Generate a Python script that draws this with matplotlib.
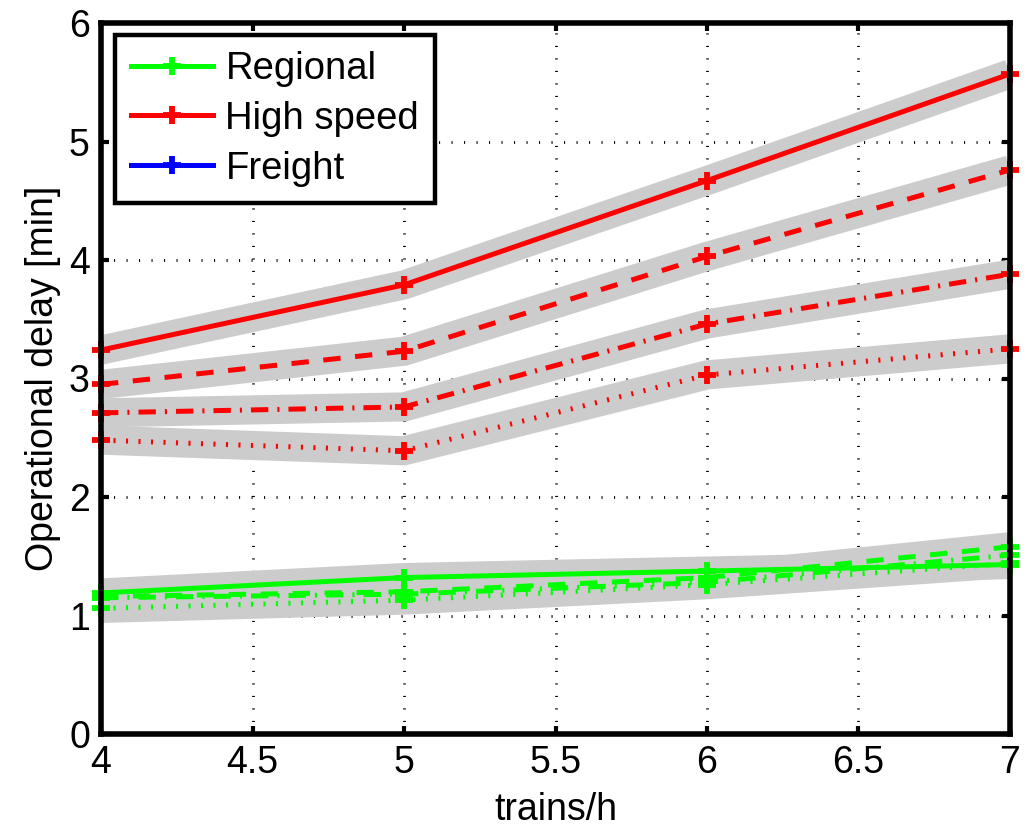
import matplotlib
matplotlib.use("Agg")
import matplotlib.pyplot as plt
from matplotlib.lines import Line2D

# ---- data ----
trains_per_h = [4, 5, 6, 7]

hs_solid   = [3.24, 3.79, 4.67, 5.57]
hs_dashed  = [2.95, 3.23, 4.03, 4.76]
hs_dashdot = [2.71, 2.76, 3.46, 3.88]
hs_dotted  = [2.48, 2.39, 3.03, 3.25]

reg_solid   = [1.19, 1.32, 1.375, 1.43]
reg_dashed  = [1.16, 1.20, 1.32, 1.58]
reg_dashdot = [1.15, 1.18, 1.28, 1.51]
reg_dotted  = [1.06, 1.13, 1.26, 1.44]

legend_labels = ["Regional", "High speed", "Freight"]
x_ticks = [4, 4.5, 5, 5.5, 6, 6.5, 7]
x_ticklabels = ["4", "4.5", "5", "5.5", "6", "6.5", "7"]
y_ticks = [0, 1, 2, 3, 4, 5, 6]

# ---- style ----
plt.rcParams['font.family'] = ['Liberation Sans', 'DejaVu Sans']
plt.rcParams['lines.scale_dashes'] = False
FS = 27

GREEN = '#00ff00'
RED = '#ff0000'
BLUE = '#0000ff'
BAND = '#cccccc'

styles = {
    'solid': '-',
    'dashed': (0, (12.5, 10.5)),
    'dashdot': (0, (12.5, 6.5, 1.5, 6.5)),
    'dotted': (0, (1.5, 7.5)),
}

fig = plt.figure(figsize=(10.31, 8.27), dpi=100)
ax = fig.add_axes([101/1031, 1-734/827, 909/1031, 711/827])

series = [
    (hs_solid, RED, 'solid'), (hs_dashed, RED, 'dashed'),
    (hs_dashdot, RED, 'dashdot'), (hs_dotted, RED, 'dotted'),
    (reg_solid, GREEN, 'solid'), (reg_dashed, GREEN, 'dashed'),
    (reg_dashdot, GREEN, 'dashdot'), (reg_dotted, GREEN, 'dotted'),
]

# gray bands
for ys, c, st in series:
    ax.plot(trains_per_h, ys, color=BAND, lw=21, solid_joinstyle='miter',
            solid_capstyle='butt', zorder=1)

# lines
for ys, c, st in series:
    ax.plot(trains_per_h, ys, color=c, lw=3.6, linestyle=styles[st],
            dash_capstyle='butt', zorder=3)
    ax.plot(trains_per_h, ys, color=c, lw=0, marker='+', ms=12.5, mew=4.2,
            clip_on=False, zorder=3)

ax.set_xlim(4, 7)
ax.set_ylim(0, 6)
ax.set_xticks(x_ticks)
ax.set_xticklabels(x_ticklabels)
ax.set_yticks(y_ticks)

ax.grid(True, color='black', lw=2.0, linestyle=(0, (0.8, 8.2)), zorder=0)
ax.set_axisbelow(True)

for sp in ax.spines.values():
    sp.set_linewidth(4)
    sp.set_zorder(5)

ax.tick_params(direction='in', length=5.5, width=3, labelsize=FS,
               top=True, right=True, pad=8)

ax.set_xlabel('trains/h', fontsize=FS)
ax.set_ylabel('Operational delay [min]', fontsize=FS)
ax.xaxis.set_label_coords(0.5, -0.082)
ax.yaxis.set_label_coords(-0.044, 0.5)

handles = [Line2D([], [], color=c, lw=3.6, marker='+', ms=12.5, mew=4.2)
           for c in (GREEN, RED, BLUE)]
leg = ax.legend(handles, legend_labels, loc='upper left',
                bbox_to_anchor=(14/909, (734-35)/711), borderaxespad=0,
                fontsize=27.5, fancybox=False, framealpha=1, edgecolor='black',
                handlelength=2.15, handletextpad=0.32, borderpad=0.42,
                labelspacing=0.36)
leg.get_frame().set_linewidth(3.2)
leg.set_zorder(10)

fig.savefig('out.png', dpi=100)
